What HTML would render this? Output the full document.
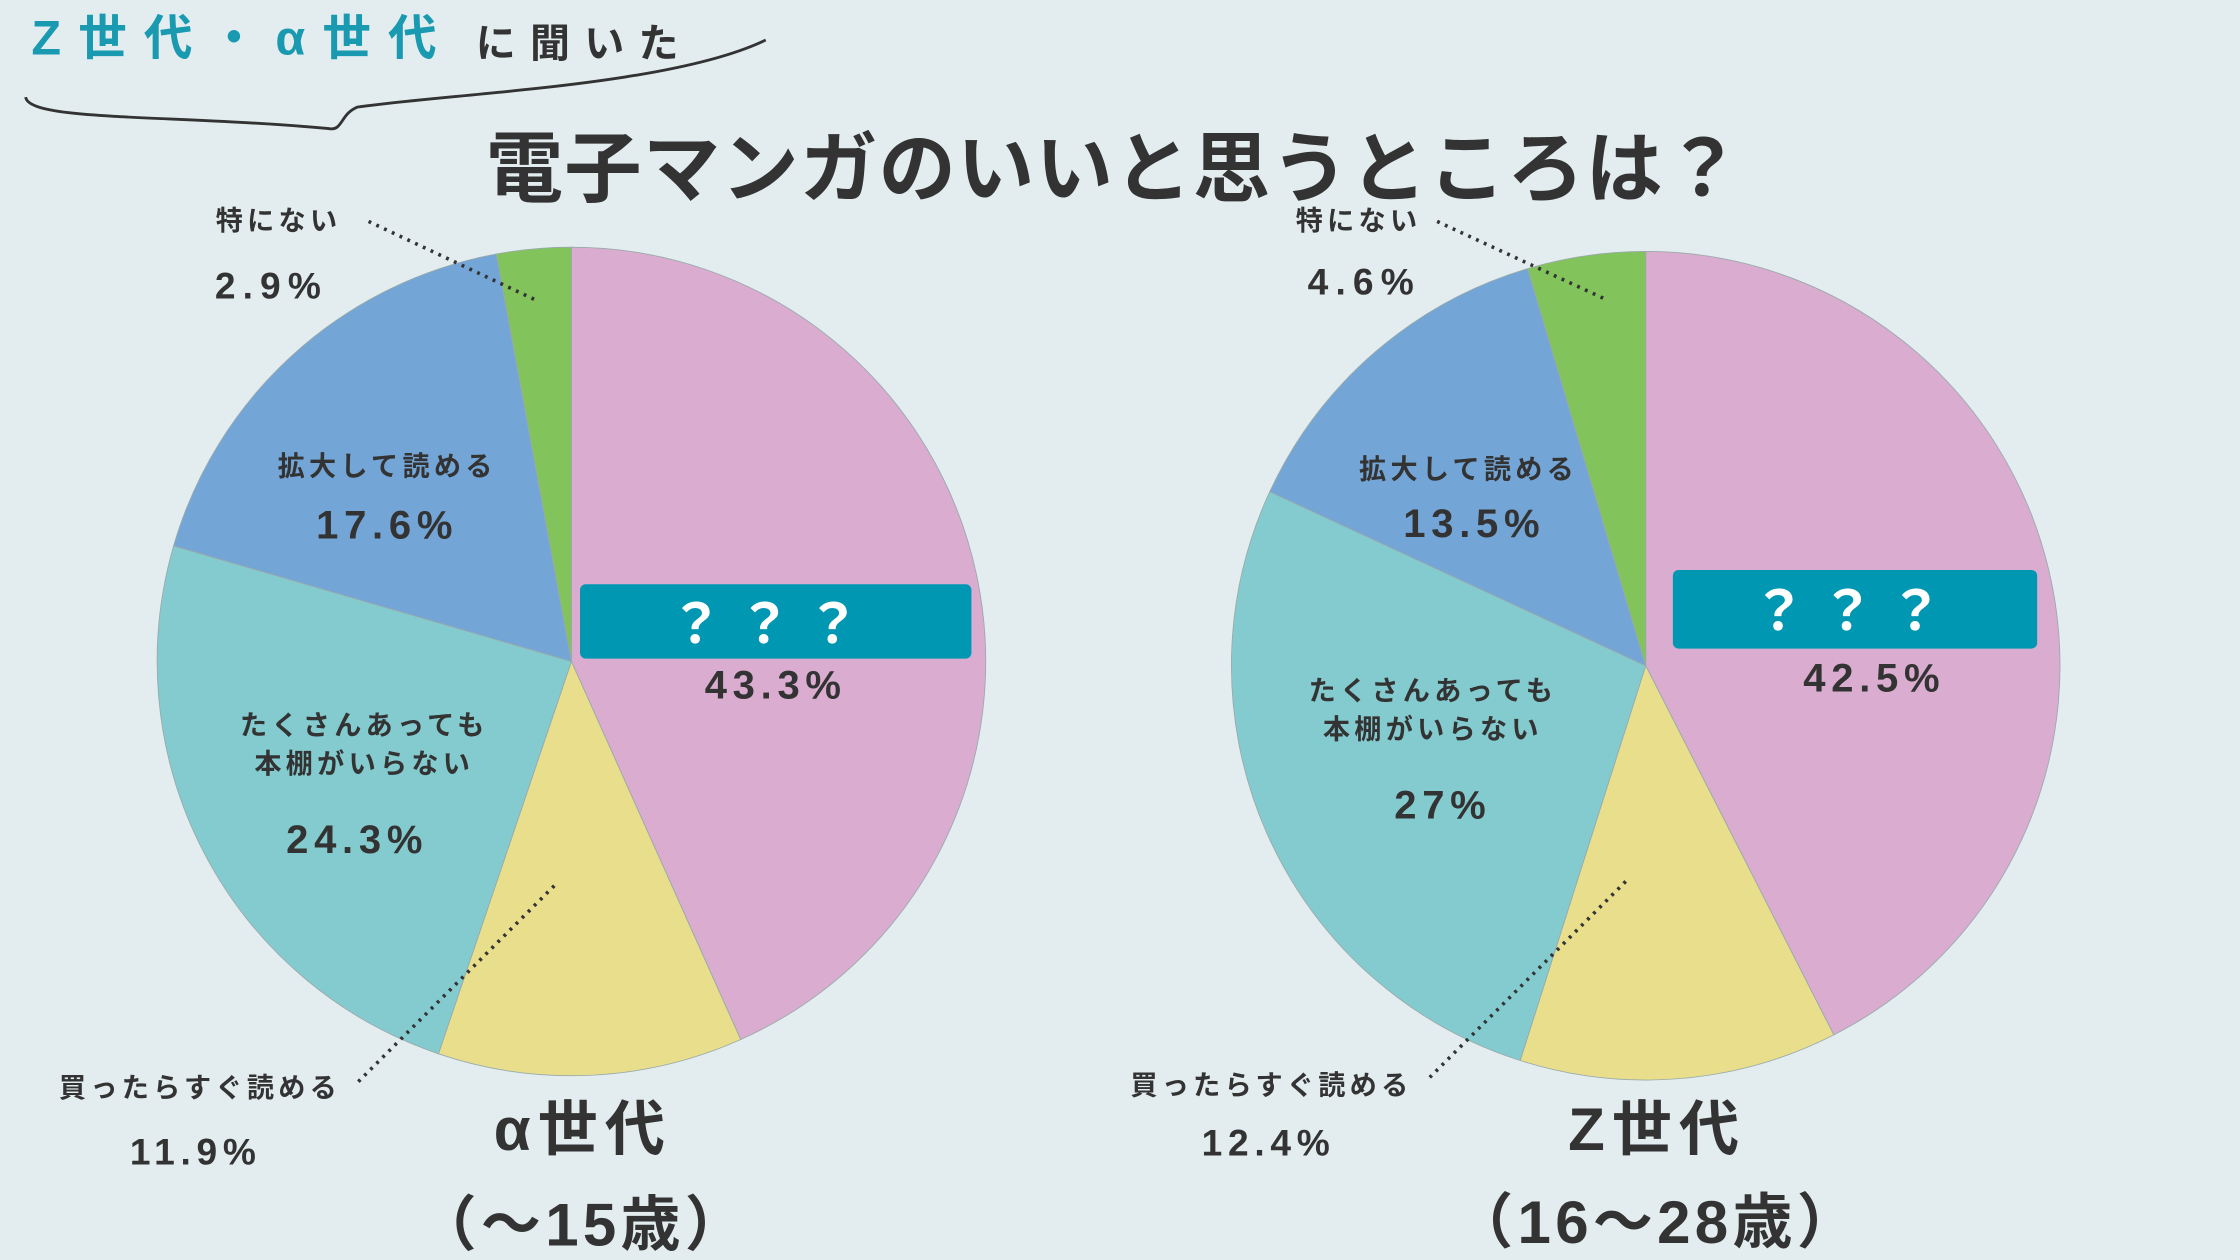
<!DOCTYPE html>
<html><head><meta charset="utf-8"><style>
html,body{margin:0;padding:0;background:#e3edf0;}
svg{display:block}
text{font-family:"Liberation Sans","Noto Sans CJK JP",sans-serif;font-weight:bold;fill:#333;}
.l{font-size:19px;letter-spacing:3px}
</style></head><body>
<svg id="s" width="2240" height="1260" viewBox="0 0 1568 882" xmlns="http://www.w3.org/2000/svg">
<rect width="1568" height="882" fill="#e3edf0"/>
<text x="22" y="38" font-size="34" style="fill:#1a9ab0" letter-spacing="12">Z世代・α世代</text>
<text x="333" y="40" font-size="28" letter-spacing="10">に聞いた</text>
<path d="M18 68 C20 85 120 80 230 90 C240 92 238 80 250 75 C320 65 470 60 536 28" fill="none" stroke="#333" stroke-width="2"/>
<text x="780" y="137" font-size="54" text-anchor="middle" letter-spacing="1">電子マンガのいいと思うところは？</text>
<g id="p1"></g><g id="p2"></g>
<rect x="406" y="409" width="274" height="52" rx="4" fill="#0097b2"/>
<text x="540" y="450" font-size="38" text-anchor="middle" style="fill:#fff" letter-spacing="10">？？？</text>
<text x="543" y="489" font-size="28" text-anchor="middle" letter-spacing="4">43.3%</text>
<text x="195" y="161" class="l" text-anchor="middle">特にない</text>
<text x="190" y="209" font-size="26" text-anchor="middle" letter-spacing="5">2.9%</text>
<line x1="258" y1="155" x2="375" y2="210" stroke="#333" stroke-width="2.5" stroke-dasharray="2,4"/>
<text x="271" y="333" class="l" text-anchor="middle">拡大して読める</text>
<text x="271" y="377" font-size="28" text-anchor="middle" letter-spacing="4">17.6%</text>
<text x="255" y="514" class="l" text-anchor="middle">たくさんあっても</text>
<text x="255" y="541" class="l" text-anchor="middle">本棚がいらない</text>
<text x="250" y="597" font-size="28" text-anchor="middle" letter-spacing="4">24.3%</text>
<line x1="388" y1="620" x2="248" y2="760" stroke="#333" stroke-width="2.5" stroke-dasharray="2,4"/>
<text x="140" y="768" class="l" text-anchor="middle">買ったらすぐ読める</text>
<text x="137" y="815" font-size="26" text-anchor="middle" letter-spacing="4">11.9%</text>
<text x="408" y="805" font-size="42" text-anchor="middle" letter-spacing="5">α世代</text>
<text x="408" y="872" font-size="42" text-anchor="middle" letter-spacing="3">（～15歳）</text>
<rect x="1171" y="399" width="255" height="55" rx="4" fill="#0097b2"/>
<text x="1298" y="441" font-size="38" text-anchor="middle" style="fill:#fff" letter-spacing="10">？？？</text>
<text x="1312" y="484" font-size="28" text-anchor="middle" letter-spacing="4">42.5%</text>
<text x="951" y="161" class="l" text-anchor="middle">特にない</text>
<text x="955" y="206" font-size="26" text-anchor="middle" letter-spacing="5">4.6%</text>
<line x1="1006" y1="155" x2="1125" y2="210" stroke="#333" stroke-width="2.5" stroke-dasharray="2,4"/>
<text x="1028" y="335" class="l" text-anchor="middle">拡大して読める</text>
<text x="1032" y="376" font-size="28" text-anchor="middle" letter-spacing="4">13.5%</text>
<text x="1003" y="490" class="l" text-anchor="middle">たくさんあっても</text>
<text x="1003" y="517" class="l" text-anchor="middle">本棚がいらない</text>
<text x="1010" y="573" font-size="28" text-anchor="middle" letter-spacing="4">27%</text>
<line x1="1138" y1="617" x2="998" y2="757" stroke="#333" stroke-width="2.5" stroke-dasharray="2,4"/>
<text x="890" y="766" class="l" text-anchor="middle">買ったらすぐ読める</text>
<text x="888" y="809" font-size="26" text-anchor="middle" letter-spacing="4">12.4%</text>
<text x="1160" y="805" font-size="42" text-anchor="middle" letter-spacing="5">Z世代</text>
<text x="1160" y="870" font-size="42" text-anchor="middle" letter-spacing="3">（16～28歳）</text>
</svg>
<script>
var cols=["#d9acd0","#e8de8c","#84cbd0","#73a5d7","#82c35b"];
function pie(id,cx,cy,r,v){
 var g=document.getElementById(id),a=0,h="";
 for(var i=0;i<v.length;i++){
  var b=a+v[i]/100*2*Math.PI;
  var x1=cx+r*Math.sin(a),y1=cy-r*Math.cos(a),x2=cx+r*Math.sin(b),y2=cy-r*Math.cos(b);
  h+='<path d="M'+cx+' '+cy+' L'+x1+' '+y1+' A'+r+' '+r+' 0 '+((b-a)>Math.PI?1:0)+' 1 '+x2+' '+y2+' Z" fill="'+cols[i]+'" stroke="#9aa" stroke-width="0.6"/>';
  a=b;
 }
 g.innerHTML=h;
}
pie("p1",400,463,290,[43.3,11.9,24.3,17.6,2.9]);
pie("p2",1152,466,290,[42.5,12.4,27,13.5,4.6]);
</script>
</body></html>
